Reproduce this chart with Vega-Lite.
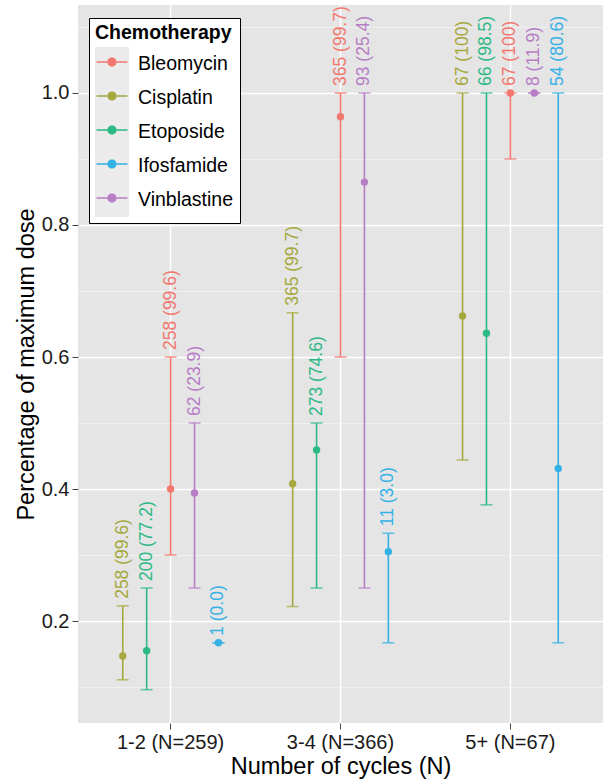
{
  "$schema": "https://vega.github.io/schema/vega-lite/v6.json",
  "width": 525,
  "height": 718,
  "autosize": {"type": "none"},
  "padding": {"left": 78, "top": 5, "right": 0, "bottom": 61},
  "background": "white",
  "config": {
    "view": {"fill": "#E5E5E5", "stroke": null},
    "font": "Liberation Sans",
    "axisY": {
      "labelFontSize": 20,
      "labelColor": "#1a1a1a",
      "labelPadding": 3,
      "titleFontSize": 23.5,
      "titleFontWeight": "normal",
      "titleColor": "black",
      "titlePadding": 3,
      "domain": false,
      "tickColor": "#444",
      "tickSize": 6,
      "tickWidth": 1,
      "grid": true
    }
  },
  "data": {
    "values": [
      {"cycles": "1-2 (N=259)", "drug": "Cisplatin", "mean": 0.147, "low": 0.111, "high": 0.223, "label": "258 (99.6)"},
      {"cycles": "1-2 (N=259)", "drug": "Etoposide", "mean": 0.155, "low": 0.096, "high": 0.25, "label": "200 (77.2)"},
      {"cycles": "1-2 (N=259)", "drug": "Bleomycin", "mean": 0.40, "low": 0.30, "high": 0.60, "label": "258 (99.6)"},
      {"cycles": "1-2 (N=259)", "drug": "Vinblastine", "mean": 0.394, "low": 0.25, "high": 0.50, "label": "62 (23.9)"},
      {"cycles": "1-2 (N=259)", "drug": "Ifosfamide", "mean": 0.167, "low": 0.167, "high": 0.167, "label": "1 (0.0)"},
      {"cycles": "3-4 (N=366)", "drug": "Cisplatin", "mean": 0.408, "low": 0.222, "high": 0.667, "label": "365 (99.7)"},
      {"cycles": "3-4 (N=366)", "drug": "Etoposide", "mean": 0.459, "low": 0.25, "high": 0.50, "label": "273 (74.6)"},
      {"cycles": "3-4 (N=366)", "drug": "Bleomycin", "mean": 0.964, "low": 0.60, "high": 1.0, "label": "365 (99.7)"},
      {"cycles": "3-4 (N=366)", "drug": "Vinblastine", "mean": 0.865, "low": 0.25, "high": 1.0, "label": "93 (25.4)"},
      {"cycles": "3-4 (N=366)", "drug": "Ifosfamide", "mean": 0.305, "low": 0.167, "high": 0.333, "label": "11 (3.0)"},
      {"cycles": "5+ (N=67)", "drug": "Cisplatin", "mean": 0.662, "low": 0.444, "high": 1.0, "label": "67 (100)"},
      {"cycles": "5+ (N=67)", "drug": "Etoposide", "mean": 0.636, "low": 0.376, "high": 1.0, "label": "66 (98.5)"},
      {"cycles": "5+ (N=67)", "drug": "Bleomycin", "mean": 1.0, "low": 0.90, "high": 1.0, "label": "67 (100)"},
      {"cycles": "5+ (N=67)", "drug": "Vinblastine", "mean": 1.0, "low": 1.0, "high": 1.0, "label": "8 (11.9)"},
      {"cycles": "5+ (N=67)", "drug": "Ifosfamide", "mean": 0.431, "low": 0.167, "high": 1.0, "label": "54 (80.6)"}
    ]
  },
  "encoding": {
    "x": {
      "field": "cycles",
      "type": "nominal",
      "sort": ["1-2 (N=259)", "3-4 (N=366)", "5+ (N=67)"],
      "scale": {"paddingInner": 0.296, "paddingOuter": 0.193},
      "axis": {
        "title": "Number of cycles (N)",
        "labelAngle": 0,
        "labelFontSize": 20,
        "labelColor": "#1a1a1a",
        "labelPadding": 3,
        "titleFontSize": 23.5,
        "titleFontWeight": "normal",
        "titleColor": "black",
        "titlePadding": 2,
        "domain": false,
        "tickColor": "#444",
        "tickSize": 6,
        "tickWidth": 1,
        "grid": true,
        "gridColor": "white",
        "gridWidth": 1.5
      }
    },
    "xOffset": {
      "field": "drug",
      "type": "nominal",
      "sort": ["Cisplatin", "Etoposide", "Bleomycin", "Vinblastine", "Ifosfamide"],
      "scale": {"paddingInner": 0, "paddingOuter": 0}
    },
    "color": {
      "field": "drug",
      "type": "nominal",
      "scale": {
        "domain": ["Bleomycin", "Cisplatin", "Etoposide", "Ifosfamide", "Vinblastine"],
        "range": ["#F2776F", "#A5A83C", "#2DB985", "#35B1E6", "#B77DC5"]
      },
      "legend": {
        "orient": "none",
        "legendX": 11,
        "legendY": 34,
        "zindex": 2,
        "title": null,
        "labelExpr": "''",
        "labelFontSize": 1,
        "labelOffset": 0,
        "fillColor": "transparent",
        "strokeColor": "transparent",
        "padding": 6,
        "rowPadding": 0,
        "symbolType": "M-1,-1h0.01v0.01h-0.01Z M1,1h-0.01v-0.01h0.01Z M-0.91,-0.05H-0.27V0.05H-0.91Z M0.27,-0.05H0.91V0.05H0.27Z M0.27,0A0.27,0.27 0 1 1 -0.27,0A0.27,0.27 0 1 1 0.27,0Z",
        "symbolSize": 1156,
        "symbolStrokeWidth": 0,
        "symbolOpacity": 1
      }
    }
  },
  "layer": [
    {
      "mark": {"type": "point", "filled": true, "opacity": 0},
      "encoding": {
        "y": {
          "field": "mean",
          "type": "quantitative",
          "scale": {"domain": [0.0455, 1.1333], "nice": false, "zero": false},
          "axis": {
            "title": "Percentage of maximum dose",
            "values": [0.1, 0.2, 0.3, 0.4, 0.5, 0.6, 0.7, 0.8, 0.9, 1.0, 1.1],
            "labelExpr": "round(datum.value*10)%2==0 ? format(datum.value,'.1f') : ''",
            "tickOpacity": {"condition": {"test": "round(datum.value*10)%2==1", "value": 0}, "value": 1},
            "gridColor": {"condition": {"test": "round(datum.value*10)%2==1", "value": "#F3F3F3"}, "value": "white"},
            "gridWidth": {"condition": {"test": "round(datum.value*10)%2==1", "value": 0.8}, "value": 1.5}
          }
        },
        "shape": {
          "field": "drug",
          "type": "nominal",
          "scale": {"range": ["square", "square", "square", "square", "square"]},
          "legend": {
            "orient": "none",
            "legendX": 11,
            "legendY": 13,
            "zindex": 1,
            "title": "Chemotherapy",
            "titleFontSize": 19.5,
            "titleFontWeight": "bold",
            "titleColor": "black",
            "titlePadding": 3.5,
            "labelFontSize": 19.5,
            "labelColor": "black",
            "labelOffset": 9,
            "fillColor": "white",
            "strokeColor": "black",
            "padding": 6,
            "rowPadding": 0,
            "symbolSize": 1156,
            "symbolOpacity": 1,
            "symbolStrokeWidth": 0,
            "symbolFillColor": "#EBEBEB",
            "encode": {
              "symbols": {
                "update": {
                  "fill": {"value": "#EBEBEB"},
                  "stroke": {"value": "transparent"},
                  "opacity": {"value": 1}
                }
              }
            }
          }
        }
      }
    },
    {
      "mark": {"type": "rule", "strokeWidth": 1.6},
      "encoding": {
        "y": {
          "field": "low",
          "type": "quantitative",
          "scale": {"domain": [0.0455, 1.1333], "nice": false, "zero": false},
          "axis": {
            "title": "Percentage of maximum dose",
            "values": [0.1, 0.2, 0.3, 0.4, 0.5, 0.6, 0.7, 0.8, 0.9, 1.0, 1.1],
            "labelExpr": "round(datum.value*10)%2==0 ? format(datum.value,'.1f') : ''",
            "tickOpacity": {"condition": {"test": "round(datum.value*10)%2==1", "value": 0}, "value": 1},
            "gridColor": {"condition": {"test": "round(datum.value*10)%2==1", "value": "#F3F3F3"}, "value": "white"},
            "gridWidth": {"condition": {"test": "round(datum.value*10)%2==1", "value": 0.8}, "value": 1.5}
          }
        },
        "y2": {"field": "high"}
      }
    },
    {
      "mark": {"type": "tick", "orient": "horizontal", "size": 12, "thickness": 1.6},
      "encoding": {
        "y": {
          "field": "low",
          "type": "quantitative",
          "scale": {"domain": [0.0455, 1.1333], "nice": false, "zero": false},
          "axis": {
            "title": "Percentage of maximum dose",
            "values": [0.1, 0.2, 0.3, 0.4, 0.5, 0.6, 0.7, 0.8, 0.9, 1.0, 1.1],
            "labelExpr": "round(datum.value*10)%2==0 ? format(datum.value,'.1f') : ''",
            "tickOpacity": {"condition": {"test": "round(datum.value*10)%2==1", "value": 0}, "value": 1},
            "gridColor": {"condition": {"test": "round(datum.value*10)%2==1", "value": "#F3F3F3"}, "value": "white"},
            "gridWidth": {"condition": {"test": "round(datum.value*10)%2==1", "value": 0.8}, "value": 1.5}
          }
        }
      }
    },
    {
      "mark": {"type": "tick", "orient": "horizontal", "size": 12, "thickness": 1.6},
      "encoding": {
        "y": {
          "field": "high",
          "type": "quantitative",
          "scale": {"domain": [0.0455, 1.1333], "nice": false, "zero": false},
          "axis": {
            "title": "Percentage of maximum dose",
            "values": [0.1, 0.2, 0.3, 0.4, 0.5, 0.6, 0.7, 0.8, 0.9, 1.0, 1.1],
            "labelExpr": "round(datum.value*10)%2==0 ? format(datum.value,'.1f') : ''",
            "tickOpacity": {"condition": {"test": "round(datum.value*10)%2==1", "value": 0}, "value": 1},
            "gridColor": {"condition": {"test": "round(datum.value*10)%2==1", "value": "#F3F3F3"}, "value": "white"},
            "gridWidth": {"condition": {"test": "round(datum.value*10)%2==1", "value": 0.8}, "value": 1.5}
          }
        }
      }
    },
    {
      "mark": {"type": "point", "filled": true, "size": 55, "opacity": 1},
      "encoding": {
        "y": {
          "field": "mean",
          "type": "quantitative",
          "scale": {"domain": [0.0455, 1.1333], "nice": false, "zero": false},
          "axis": {
            "title": "Percentage of maximum dose",
            "values": [0.1, 0.2, 0.3, 0.4, 0.5, 0.6, 0.7, 0.8, 0.9, 1.0, 1.1],
            "labelExpr": "round(datum.value*10)%2==0 ? format(datum.value,'.1f') : ''",
            "tickOpacity": {"condition": {"test": "round(datum.value*10)%2==1", "value": 0}, "value": 1},
            "gridColor": {"condition": {"test": "round(datum.value*10)%2==1", "value": "#F3F3F3"}, "value": "white"},
            "gridWidth": {"condition": {"test": "round(datum.value*10)%2==1", "value": 0.8}, "value": 1.5}
          }
        }
      }
    },
    {
      "mark": {"type": "text", "angle": 270, "align": "left", "baseline": "middle", "dx": 7, "fontSize": 17.5},
      "encoding": {
        "y": {
          "field": "high",
          "type": "quantitative",
          "scale": {"domain": [0.0455, 1.1333], "nice": false, "zero": false},
          "axis": {
            "title": "Percentage of maximum dose",
            "values": [0.1, 0.2, 0.3, 0.4, 0.5, 0.6, 0.7, 0.8, 0.9, 1.0, 1.1],
            "labelExpr": "round(datum.value*10)%2==0 ? format(datum.value,'.1f') : ''",
            "tickOpacity": {"condition": {"test": "round(datum.value*10)%2==1", "value": 0}, "value": 1},
            "gridColor": {"condition": {"test": "round(datum.value*10)%2==1", "value": "#F3F3F3"}, "value": "white"},
            "gridWidth": {"condition": {"test": "round(datum.value*10)%2==1", "value": 0.8}, "value": 1.5}
          }
        },
        "text": {"field": "label"}
      }
    }
  ]
}
